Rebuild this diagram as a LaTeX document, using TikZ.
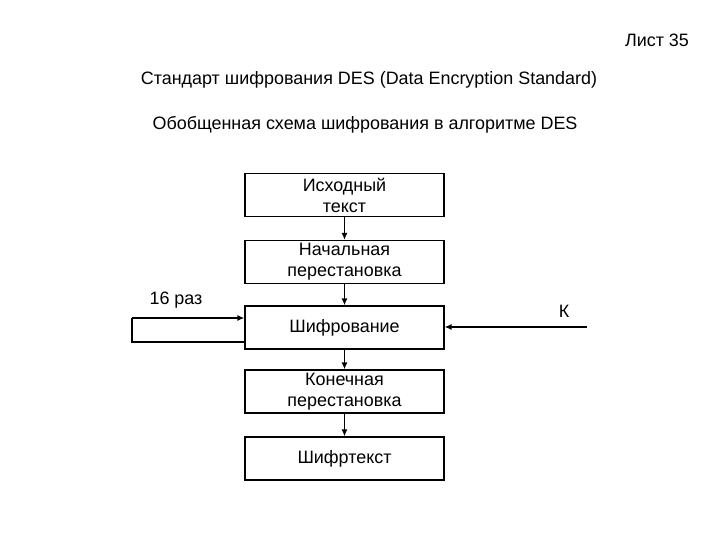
\documentclass[tikz,border=0pt]{standalone}
\usepackage{fontspec}
\setmainfont{Liberation Sans}
\usetikzlibrary{arrows.meta}
\begin{document}
\begin{tikzpicture}[x=1bp,y=-1bp,
  blk/.style={draw,line width=1.2bp,minimum width=199bp,minimum height=43bp,inner sep=0pt,align=center,font=\fontsize{18}{21}\selectfont},
  lbl/.style={inner sep=0pt,font=\fontsize{18}{21}\selectfont},
  con/.style={line width=1.8bp,-{Latex[length=7bp,width=6bp]}},
  ln/.style={line width=1.8bp}]
\useasboundingbox (0,0) rectangle (720,540);
\node[lbl] (sheet) at (657,40) {Лист 35};
\node[lbl] (title) at (369,80) {Стандарт шифрования DES (Data Encryption Standard)};
\node[lbl] (sub) at (365,125) {Обобщенная схема шифрования в алгоритме DES};
\node[blk] (b1) at (344.5,195) {Исходный\\текст};
\node[blk] (b2) at (344.5,262) {Начальная\\перестановка};
\node[blk] (b3) at (344.5,327.5) {Шифрование};
\node[blk] (b4) at (344.5,391.5) {Конечная\\перестановка};
\node[blk] (b5) at (344.5,458.5) {Шифртекст};
\draw[con] (b1) -- (b2);
\draw[con] (b2) -- (b3);
\draw[con] (b3) -- (b4);
\draw[con] (b4) -- (b5);
\coordinate (lb) at (132,342);
\coordinate (lt) at (132,318);
\draw[ln] (b3.west |- lb) -- (lb) -- (lt);
\draw[con] (lt) -- (b3.west |- lt);
\coordinate (kin) at (587,327);
\draw[con] (kin) -- (b3.east |- kin);
\node[lbl] (n16) at (176,300) {16 раз};
\node[lbl] (k) at (564,311) {К};
\end{tikzpicture}
\end{document}
